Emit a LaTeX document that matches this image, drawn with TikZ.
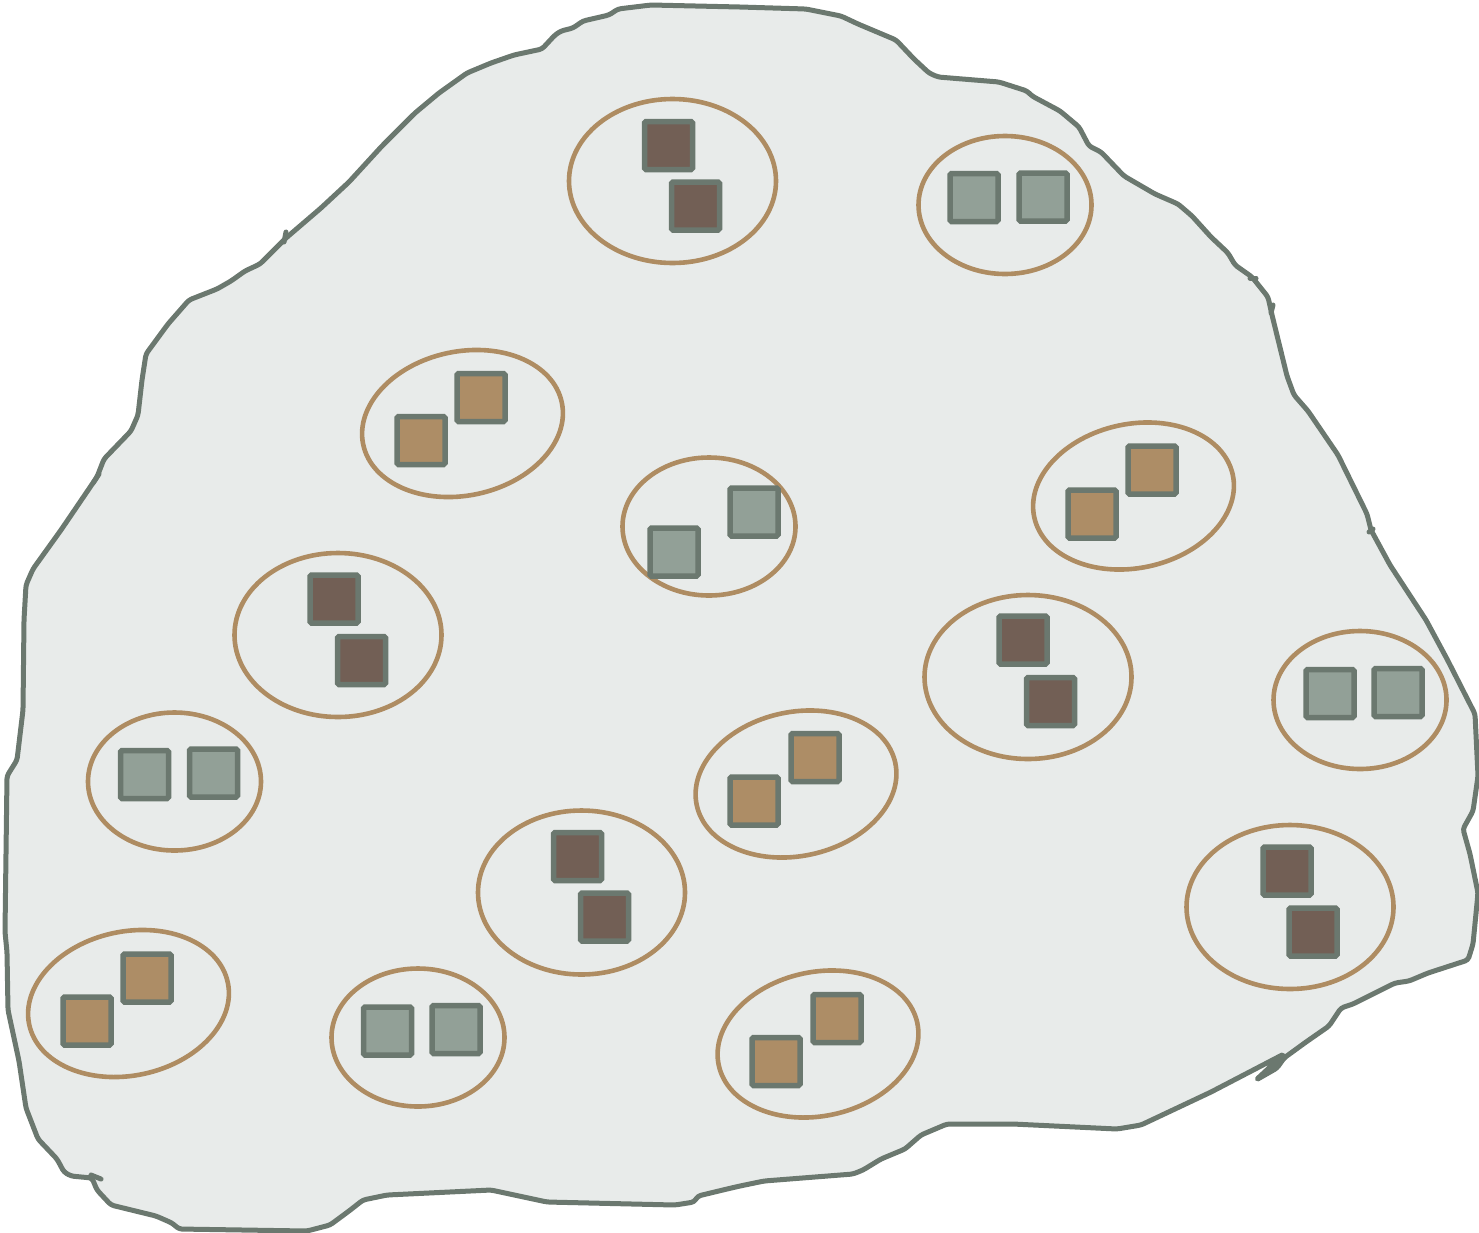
\documentclass[tikz,border=0pt]{standalone}
\definecolor{blobfill}{HTML}{E8EBEA}
\definecolor{blobline}{HTML}{6B786F}
\definecolor{ringc}{HTML}{AE8C62}
\definecolor{darkc}{HTML}{725F55}
\definecolor{tanc}{HTML}{AD8D66}
\definecolor{grayc}{HTML}{92A097}
\begin{document}
\begin{tikzpicture}[x=1pt,y=-1pt,
  blob/.style={draw=blobline, fill=blobfill, line width=5pt, line join=round, rounded corners=3pt},
  tick/.style={draw=blobline, line width=5pt, line cap=round},
  ring/.style={draw=ringc, line width=4.6pt},
  sq/.style={draw=blobline, line width=5.5pt, minimum size=48pt, inner sep=0pt, rounded corners=1.5pt},
  dsq/.style={sq, fill=darkc},
  tsq/.style={sq, fill=tanc},
  gsq/.style={sq, fill=grayc},
  dring/.style={ring, x radius=103.5, y radius=82},
  gring/.style={ring, x radius=86.5, y radius=69},
  tring/.style={ring, x radius=101.5, y radius=72}]
\useasboundingbox (0,0) rectangle (1479,1232);

% blob outline
\draw[blob] (651,5) -- (740,7) -- (806,9) -- (841,16) -- (858,24) -- (896,40) -- (914,59) -- (929,73) -- (938,77) -- (999,82) -- (1027,91) -- (1032,96) -- (1060,111) -- (1079,127) -- (1089,146) -- (1101,152) -- (1124,176) -- (1155,194) -- (1178,204) -- (1192,216) -- (1211,237) -- (1228,253) -- (1235,265) -- (1252,277) -- (1268,297) -- (1272,315) -- (1287,376) -- (1294,395) -- (1308,411) -- (1338,455) -- (1367,514) -- (1371,530) -- (1390,565) -- (1426,620) -- (1447,659) -- (1475,714) -- (1478,776) -- (1473,811) -- (1463,829) -- (1470,854) -- (1478,893) -- (1473,944) -- (1468,960) -- (1428,973) -- (1409,981) -- (1395,983) -- (1371,995) -- (1353,1004) -- (1341,1008) -- (1329,1026) -- (1306,1042) -- (1284,1058) -- (1277,1068) -- (1256,1080) -- (1284,1054) -- (1211,1092) -- (1141,1125) -- (1117,1129) -- (1013,1124) -- (947,1124) -- (921,1135) -- (905,1149) -- (881,1159) -- (863,1170) -- (853,1174) -- (764,1181) -- (740,1186) -- (727,1189) -- (698,1196) -- (694,1202) -- (675,1205) -- (547,1202) -- (491,1190) -- (387,1195) -- (363,1200) -- (349,1211) -- (330,1225) -- (307,1231) -- (179,1229) -- (172,1223) -- (156,1216) -- (111,1205) -- (97,1190) -- (92,1178) -- (71,1176) -- (64,1172) -- (57,1159) -- (38,1139) -- (26,1108) -- (19,1061) -- (8,1010) -- (7,952) -- (5,932) -- (7,776) -- (17,760) -- (23,710) -- (24,620) -- (26,585) -- (33,569) -- (61,530) -- (97,477) -- (104,459) -- (131,431) -- (138,415) -- (142,380) -- (146,354) -- (168,324) -- (189,300) -- (217,289) -- (231,281) -- (245,271) -- (260,264) -- (286,238) -- (321,208) -- (349,182) -- (382,146) -- (415,113) -- (439,93) -- (467,73) -- (491,63) -- (514,55) -- (542,49) -- (555,35) -- (561,31) -- (573,28) -- (583,21) -- (609,15) -- (618,9) -- cycle;
% small pen ticks
\draw[tick] (284,242) -- (286,232);
\draw[tick] (93,483) -- (99,474);
\draw[tick] (91,1175) -- (101,1179);
\draw[tick] (1250,278) -- (1256,278);
\draw[tick] (1271,313) -- (1273,305);
\draw[tick] (1369,532) -- (1373,529);

% 1 top centre, dark pair
\draw[dring] (672.5,181) ellipse [];
\node[dsq] (a1) at (668.5,145.5) {};
\node[dsq] (a2) at (695.5,206) {};
% 2 top right, gray pair
\draw[gring] (1005,205) ellipse [];
\node[gsq] (b1) at (974,197.5) {};
\node[gsq] (b2) at (1043,197) {};
% 3 upper left, tan pair
\draw[tring, rotate around={12:(462.5,423.5)}] (462.5,423.5) ellipse [];
\node[tsq] (c1) at (421,440.5) {};
\node[tsq] (c2) at (481,397.5) {};
% 4 centre, gray diagonal
\draw[gring] (709,526.5) ellipse [];
\node[gsq] (d1) at (674,552) {};
\node[gsq] (d2) at (754,512) {};
% 5 right, tan pair
\draw[tring, rotate around={12:(1133.5,496)}] (1133.5,496) ellipse [];
\node[tsq] (e1) at (1092,514) {};
\node[tsq] (e2) at (1152,470) {};
% 6 left, dark pair
\draw[dring] (338,635) ellipse [];
\node[dsq] (f1) at (334,599) {};
\node[dsq] (f2) at (361.5,660.5) {};
% 7 left, gray pair
\draw[gring] (174.5,781.5) ellipse [];
\node[gsq] (g1) at (144.5,774.5) {};
\node[gsq] (g2) at (213.5,773) {};
% 8 right centre, dark pair
\draw[dring] (1028,677) ellipse [];
\node[dsq] (h1) at (1023,640) {};
\node[dsq] (h2) at (1050.5,701.5) {};
% 9 far right, gray pair
\draw[gring] (1360,700) ellipse [];
\node[gsq] (i1) at (1330,693.5) {};
\node[gsq] (i2) at (1398,692.5) {};
% 10 centre, tan pair
\draw[tring, rotate around={12:(796,784)}] (796,784) ellipse [];
\node[tsq] (j1) at (754,801) {};
\node[tsq] (j2) at (815,757.5) {};
% 11 centre, dark pair
\draw[dring] (581.5,892.5) ellipse [];
\node[dsq] (k1) at (577.5,856.5) {};
\node[dsq] (k2) at (604.5,917) {};
% 12 right bottom, dark pair
\draw[dring] (1290,907) ellipse [];
\node[dsq] (l1) at (1287,871) {};
\node[dsq] (l2) at (1313,932) {};
% 13 bottom left, tan pair
\draw[tring, rotate around={12:(128.5,1003.5)}] (128.5,1003.5) ellipse [];
\node[tsq] (m1) at (87,1021) {};
\node[tsq] (m2) at (147,978) {};
% 14 bottom, gray pair
\draw[gring] (418,1037.5) ellipse [];
\node[gsq] (n1) at (387.5,1031) {};
\node[gsq] (n2) at (456,1029.5) {};
% 15 bottom centre, tan pair
\draw[tring, rotate around={12:(818,1044)}] (818,1044) ellipse [];
\node[tsq] (o1) at (776,1061.5) {};
\node[tsq] (o2) at (837,1018.5) {};
\end{tikzpicture}
\end{document}
